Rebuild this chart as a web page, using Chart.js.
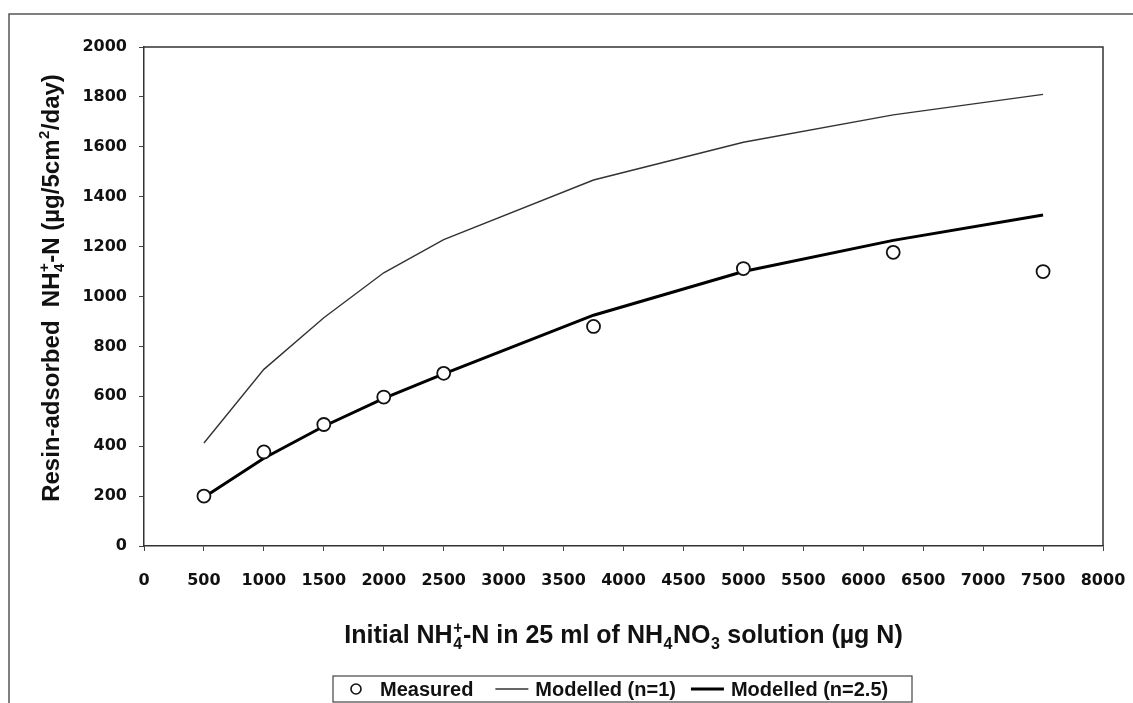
<!DOCTYPE html>
<html><head><meta charset="utf-8">
<script src="https://cdn.jsdelivr.net/npm/chart.js@4.4.1/dist/chart.umd.min.js"></script>
<style>html,body{margin:0;padding:0;background:#fff}#wrap{width:1133px;height:703px;position:relative}</style>
</head><body><div id="wrap"><canvas id="c"></canvas></div>
<script>
// ---- data ----
const xValues    = [500, 1000, 1500, 2000, 2500, 3750, 5000, 6250, 7500];
const measured   = [200, 377, 487, 597, 692, 880, 1112, 1177, 1100];
const modelled1  = [413, 708, 915, 1095, 1228, 1467, 1618, 1728, 1810];
const modelled25 = [195, 352, 480, 592, 690, 925, 1100, 1225, 1327];
const seriesNames = ['Measured', 'Modelled (n=1)', 'Modelled (n=2.5)'];
const xTickRange = [0, 8000, 500];
const yTickRange = [0, 2000, 200];
const xTitle = [{t:'Initial NH'},{sub:'4',sup:'+'},{t:'-N in 25 ml of NH'},{sub:'4'},{t:'NO'},{sub:'3'},{t:' solution (\u00b5g N)'}];
const yTitle = [{t:'Resin-adsorbed  NH'},{sub:'4',sup:'+'},{t:'-N (\u00b5g/5cm'},{sup:'2'},{t:'/day)'}];

const pts = ys => xValues.map((x, i) => ({x: x, y: ys[i]}));
const tickFont = {family: 'DejaVu Sans', weight: 'bold', size: 16};
const INK = '#111';
const FAM = '"Liberation Sans", Arial, sans-serif';

function richWidth(ctx, segs, size, fam) {
  let w = 0;
  segs.forEach(s => {
    if (s.t !== undefined) { ctx.font = 'bold ' + size + 'px ' + fam; w += ctx.measureText(s.t).width; }
    else {
      ctx.font = 'bold ' + Math.round(size * 0.62) + 'px ' + fam;
      w += Math.max(s.sub ? ctx.measureText(s.sub).width : 0, s.sup ? ctx.measureText(s.sup).width : 0) + 1;
    }
  });
  return w;
}
function drawRich(ctx, segs, cx, cy, size, fam) {
  const w = richWidth(ctx, segs, size, fam);
  let x = cx - w / 2;
  const base = cy + size * 0.36;
  ctx.textBaseline = 'alphabetic';
  ctx.textAlign = 'left';
  segs.forEach(s => {
    if (s.t !== undefined) {
      ctx.font = 'bold ' + size + 'px ' + fam;
      ctx.fillText(s.t, x, base);
      x += ctx.measureText(s.t).width;
    } else {
      const ss = Math.round(size * 0.62);
      ctx.font = 'bold ' + ss + 'px ' + fam;
      let adv = 0;
      if (s.sub) { ctx.fillText(s.sub, x + 0.5, base + size * 0.22); adv = Math.max(adv, ctx.measureText(s.sub).width); }
      if (s.sup) { ctx.fillText(s.sup, x + 0.5, base - size * 0.42); adv = Math.max(adv, ctx.measureText(s.sup).width); }
      x += adv + 1;
    }
  });
}

const decor = {
  id: 'decor',
  afterDraw(chart) {
    const ctx = chart.ctx, a = chart.chartArea;
    ctx.save();
    // plot box top & right
    ctx.strokeStyle = '#333'; ctx.lineWidth = 1.5;
    ctx.beginPath();
    ctx.moveTo(a.left, a.top); ctx.lineTo(a.right, a.top); ctx.lineTo(a.right, a.bottom);
    ctx.stroke();
    // outer frame
    ctx.strokeStyle = '#555'; ctx.lineWidth = 1.5;
    ctx.beginPath();
    ctx.moveTo(9, 703); ctx.lineTo(9, 14); ctx.lineTo(1133, 14);
    ctx.stroke();
    ctx.fillStyle = INK;
    // x title
    drawRich(ctx, xTitle, (a.left + a.right) / 2, 634, 25, FAM);
    // y title
    ctx.save();
    ctx.translate(50, 288);
    ctx.rotate(-Math.PI / 2);
    drawRich(ctx, yTitle, 0, 0, 24, FAM);
    ctx.restore();
    // legend
    const ds = chart.data.datasets;
    const ls = 20;
    const bx0 = 333, bx1 = 912, by0 = 676, by1 = 702;
    ctx.strokeStyle = '#444'; ctx.lineWidth = 1.2;
    ctx.strokeRect(bx0, by0, bx1 - bx0, by1 - by0);
    const cy = 689;
    ctx.font = 'bold ' + ls + 'px ' + FAM;
    ctx.textBaseline = 'middle'; ctx.textAlign = 'left';
    let x = 356;
    ctx.beginPath(); ctx.arc(x, cy, 5, 0, Math.PI * 2);
    ctx.fillStyle = '#fff'; ctx.fill();
    ctx.strokeStyle = '#111'; ctx.lineWidth = 1.6; ctx.stroke();
    ctx.fillStyle = INK;
    x = 380;
    ctx.fillText(seriesNames[0], x, cy + 1);
    x += ctx.measureText(seriesNames[0]).width + 22;
    [1, 2].forEach(i => {
      ctx.strokeStyle = ds[i].borderColor; ctx.lineWidth = ds[i].borderWidth;
      ctx.beginPath(); ctx.moveTo(x, cy); ctx.lineTo(x + 33, cy); ctx.stroke();
      x += 40;
      ctx.fillText(seriesNames[i], x, cy + 1);
      x += ctx.measureText(seriesNames[i]).width + 15;
    });
    ctx.restore();
  }
};

new Chart(document.getElementById('c'), {
  type: 'scatter',
  data: {
    datasets: [
      {label: seriesNames[0], data: pts(measured), showLine: false, pointRadius: 6.5, pointHoverRadius: 6.5,
       pointBorderWidth: 1.8, pointBackgroundColor: '#fff', pointBorderColor: '#111', order: 0},
      {label: seriesNames[1], data: pts(modelled1), showLine: true, borderColor: '#333', borderWidth: 1.4,
       pointRadius: 0, fill: false, order: 2},
      {label: seriesNames[2], data: pts(modelled25), showLine: true, borderColor: '#000', borderWidth: 3,
       pointRadius: 0, fill: false, order: 1}
    ]
  },
  options: {
    responsive: true, maintainAspectRatio: false, animation: false,
    layout: {padding: {top: 47, right: 30, left: 0, bottom: 0}},
    plugins: {legend: {display: false}, tooltip: {enabled: false}},
    scales: {
      x: {type: 'linear', min: xTickRange[0], max: xTickRange[1],
          ticks: {stepSize: xTickRange[2], font: tickFont, color: INK, padding: 20, maxRotation: 0, autoSkip: false,
                  callback: v => String(v)},
          grid: {drawOnChartArea: false, drawTicks: true, tickLength: 5, color: '#444', lineWidth: 1},
          border: {display: true, color: '#333', width: 1.5},
          afterFit(s) { s.height = 157; s.paddingLeft = 0; s.paddingRight = 0; }},
      y: {type: 'linear', min: yTickRange[0], max: yTickRange[1],
          ticks: {stepSize: yTickRange[2], font: tickFont, color: INK, padding: 12, autoSkip: false,
                  callback: v => String(v)},
          grid: {drawOnChartArea: false, drawTicks: true, tickLength: 5, color: '#444', lineWidth: 1},
          border: {display: true, color: '#333', width: 1.5},
          afterFit(s) { s.width = 144; s.paddingTop = 0; s.paddingBottom = 0; }}
    }
  },
  plugins: [decor]
});
</script>
</body></html>
